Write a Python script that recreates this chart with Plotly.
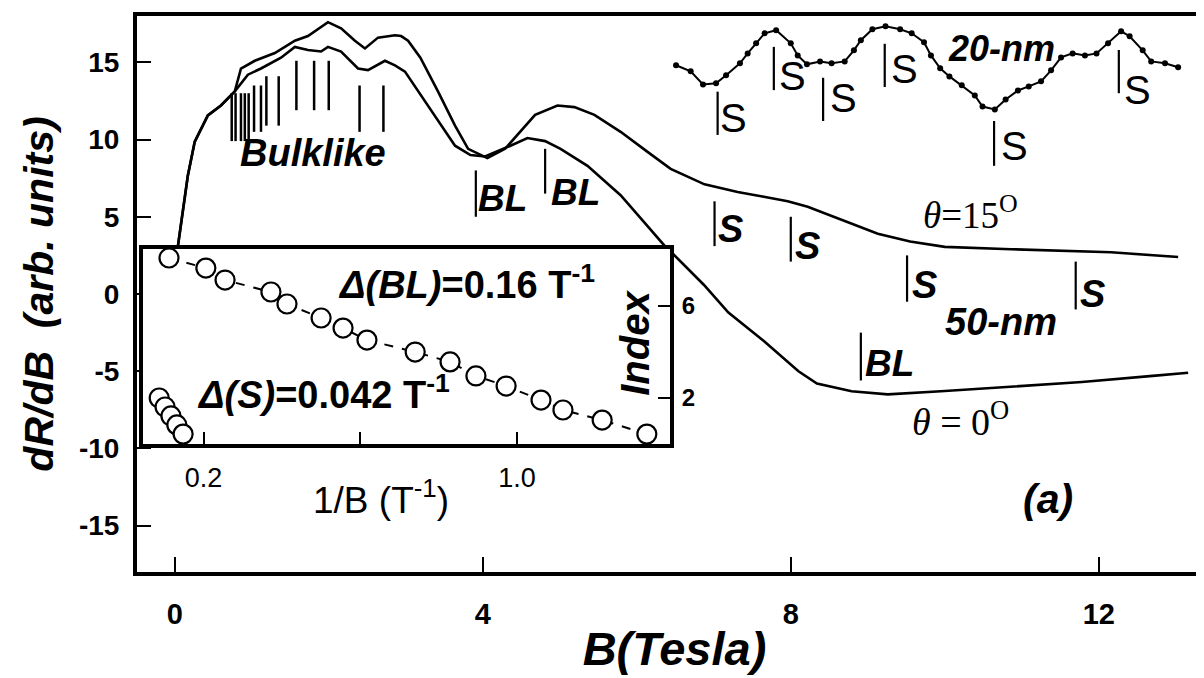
import plotly.graph_objects as go

SANS = "Liberation Sans, Arial, sans-serif"
SERIF = "Liberation Serif, Times New Roman, serif"

# ---------------- main data ----------------
b15 = [0.04, 0.17, 0.26, 0.43, 0.60, 0.78, 0.86, 1.04, 1.30, 1.56,
       1.73, 1.90, 1.99, 2.16, 2.34, 2.47, 2.64, 2.86, 2.94, 3.03,
       3.19, 3.42, 3.64, 3.81, 3.97, 4.06, 4.29, 4.49, 4.68, 4.97,
       5.19, 5.45, 5.79, 6.14, 6.44, 6.88, 7.31, 7.65, 7.96, 8.22,
       8.70, 9.13, 9.55, 10.0, 10.86, 11.5, 12.16, 13.03]
r15 = [3.05, 7.66, 9.87, 11.56, 12.21, 13.12, 14.6, 15.1, 15.6, 16.4,
       16.7, 17.3, 17.6, 17.2, 16.4, 15.9, 16.6, 16.75, 16.7, 16.4,
       15.3, 13.1, 10.9, 9.4, 9.0, 8.8, 9.4, 10.5, 11.6, 12.2,
       12.1, 11.6, 10.5, 9.2, 8.1, 7.1, 6.6, 6.3, 6.0, 5.65,
       4.7, 3.9, 3.4, 3.05, 2.9, 2.8, 2.7, 2.4]

b0 = [0.04, 0.17, 0.26, 0.43, 0.60, 0.78, 0.95, 1.12, 1.38, 1.56,
      1.73, 1.90, 1.99, 2.16, 2.38, 2.51, 2.73, 2.86, 2.99, 3.19,
      3.42, 3.64, 3.84, 4.03, 4.36, 4.58, 4.81, 5.01, 5.36, 5.79,
      6.14, 6.40, 6.45, 6.87, 7.19, 7.65, 8.10, 8.34, 8.79, 9.26,
      9.95, 10.86, 11.78, 12.70, 13.16]
r0 = [3.05, 7.66, 9.87, 11.56, 12.21, 13.12, 14.2, 14.6, 15.3, 16.0,
      15.8, 15.7, 16.0, 15.7, 14.6, 14.5, 15.1, 14.8, 14.4, 12.9,
      11.2, 9.6, 9.0, 8.9, 9.6, 10.1, 9.9, 9.4, 8.3, 6.4,
      4.4, 2.9, 2.7, 0.6, -1.2, -3.05, -5.0, -5.8, -6.3, -6.5,
      -6.3, -6.0, -5.7, -5.3, -5.1]

# 20-nm trace (dots)
b20 = [6.51, 6.70, 6.86, 7.03, 7.16, 7.34, 7.44, 7.55, 7.66, 7.81,
       8.00, 8.09, 8.21, 8.38, 8.53, 8.70, 8.82, 8.91, 9.06, 9.23,
       9.42, 9.57, 9.73, 9.82, 9.94, 10.06, 10.22, 10.39, 10.49, 10.65,
       10.79, 10.95, 11.09, 11.25, 11.38, 11.51, 11.66, 11.82, 11.97, 12.12,
       12.29, 12.40, 12.57, 12.68, 12.86, 13.03]
r20 = [14.81, 14.42, 13.57, 13.64, 14.16, 14.94, 15.58, 16.23, 16.88, 17.08,
       16.23, 15.45, 14.87, 15.06, 14.94, 15.06, 15.78, 16.43, 17.14, 17.34,
       17.14, 16.88, 16.30, 15.45, 14.61, 14.09, 13.51, 12.86, 12.14, 11.95,
       12.60, 13.18, 13.44, 13.77, 14.48, 15.32, 15.58, 15.45, 15.58, 16.23,
       17.01, 16.69, 15.78, 15.06, 14.94, 14.68]

# bulk-like tick marks
bulk_B = [0.74, 0.79, 0.86, 0.91, 0.96, 1.03, 1.12, 1.19, 1.35, 1.58, 1.81, 2.00, 2.40, 2.71]
bulk_top = [13.0, 13.0, 13.0, 13.0, 13.0, 13.5, 13.5, 14.1, 14.1, 15.1, 15.1, 15.1, 13.5, 13.5]
bulk_bot = [9.9, 9.9, 9.9, 9.9, 9.9, 10.5, 10.5, 10.9, 10.9, 11.9, 11.9, 11.9, 10.5, 10.5]

# BL / S markers: line position, line top, line bottom, label, label x, label y, style
mark_B = [3.91, 4.81, 8.91, 7.05, 7.78, 8.42, 9.22, 10.64, 12.26, 7.01, 8.00, 9.51, 11.70]
mark_top = [8.0, 9.4, -2.5, 13.1, 16.0, 14.0, 16.2, 11.2, 15.8, 6.0, 5.0, 2.5, 2.1]
mark_bot = [5.0, 6.5, -5.6, 10.3, 13.2, 11.2, 13.4, 8.3, 13.0, 3.1, 2.1, -0.5, -1.0]
mark_text = ["BL", "BL", "BL", "S", "S", "S", "S", "S", "S", "S", "S", "S", "S"]
mark_tx = [4.25, 5.21, 9.28, 7.25, 8.02, 8.68, 9.48, 10.90, 12.50, 7.22, 8.22, 9.73, 11.92]
mark_ty = [6.2, 6.6, -4.5, 11.4, 14.1, 12.7, 14.6, 9.6, 13.2, 4.2, 3.1, 0.6, 0.0]
mark_bold = [True, True, True, False, False, False, False, False, False, True, True, True, True]

# ---------------- inset data ----------------
inv_bl = [0.112, 0.206, 0.255, 0.372, 0.413, 0.50, 0.556, 0.617, 0.740, 0.829,
          0.895, 0.972, 1.061, 1.117, 1.217, 1.331]
idx_bl = [8.09, 7.65, 7.13, 6.61, 6.09, 5.48, 5.04, 4.52, 4.0, 3.57,
          2.96, 2.52, 1.91, 1.48, 1.04, 0.43]
inv_s = [0.087, 0.102, 0.117, 0.132, 0.148]
idx_s = [2.0, 1.61, 1.22, 0.83, 0.43]

x_ticks = [0, 4, 8, 12]
y_ticks = [-15, -10, -5, 0, 5, 10, 15]
y_ticktext = ["-15", "-10", "-5", "0", "5", "10", "15"]
inset_xticks = [0.2, 0.6, 1.0]
inset_xtext = ["0.2", "", "1.0"]
inset_yticks = [2, 6]

fig = go.Figure()

LW = 2.6
fig.add_trace(go.Scatter(x=b15, y=r15, mode="lines", line=dict(color="black", width=LW),
                         showlegend=False, hoverinfo="skip"))
fig.add_trace(go.Scatter(x=b0, y=r0, mode="lines", line=dict(color="black", width=LW),
                         showlegend=False, hoverinfo="skip"))
fig.add_trace(go.Scatter(x=b20, y=r20, mode="lines+markers",
                         line=dict(color="black", width=2),
                         marker=dict(color="black", size=6),
                         showlegend=False, hoverinfo="skip"))

# bulklike ticks
bx, by = [], []
for b, t, lo in zip(bulk_B, bulk_top, bulk_bot):
    bx += [b, b, None]
    by += [lo, t, None]
fig.add_trace(go.Scatter(x=bx, y=by, mode="lines", line=dict(color="black", width=2.5),
                         showlegend=False, hoverinfo="skip"))

# BL / S marker lines
mx, my = [], []
for b, t, lo in zip(mark_B, mark_top, mark_bot):
    mx += [b, b, None]
    my += [lo, t, None]
fig.add_trace(go.Scatter(x=mx, y=my, mode="lines", line=dict(color="black", width=2.2),
                         showlegend=False, hoverinfo="skip"))


def bi(size):
    return dict(family=SANS, size=size, color="black", weight="bold", style="italic")


annots = []
for txt, tx, ty, bold in zip(mark_text, mark_tx, mark_ty, mark_bold):
    if bold:
        font = bi(37) if txt == "BL" else bi(38)
    else:
        font = dict(family=SANS, size=40, color="black")
    annots.append(dict(x=tx, y=ty, xref="x", yref="y", text=txt, showarrow=False,
                       font=font, xanchor="center", yanchor="middle"))

annots += [
    dict(x=1.80, y=9.1, xref="x", yref="y", text="Bulklike", showarrow=False, font=bi(38)),
    dict(x=10.73, y=15.9, xref="x", yref="y", text="20-nm", showarrow=False, font=bi(36)),
    dict(x=10.73, y=-1.8, xref="x", yref="y", text="50-nm", showarrow=False, font=bi(38)),
    dict(x=11.34, y=-13.3, xref="x", yref="y", text="(a)", showarrow=False, font=bi(41)),
    dict(x=10.34, y=5.3, xref="x", yref="y", text="<i>θ</i>=15<sup>O</sup>", showarrow=False,
         font=dict(family=SERIF, size=37, color="black")),
    dict(x=10.21, y=-8.1, xref="x", yref="y", text="<i>θ</i> = 0<sup>O</sup>", showarrow=False,
         font=dict(family=SERIF, size=38, color="black")),
    dict(x=2.68, y=-13.2, xref="x", yref="y", text="1/B (T<sup>-1</sup>)", showarrow=False,
         font=dict(family=SANS, size=37, color="black")),
    # inset texts
    dict(x=0.872, y=7.05, xref="x2", yref="y2",
         text="<i>Δ(BL)</i>=0.16 T<sup>-1</sup>", showarrow=False,
         font=dict(family=SANS, size=38, color="black", weight="bold")),
    dict(x=0.505, y=2.27, xref="x2", yref="y2",
         text="<i>Δ(S)</i>=0.042 T<sup>-1</sup>", showarrow=False,
         font=dict(family=SANS, size=38, color="black", weight="bold")),
    dict(x=1.300, y=4.39, xref="x2", yref="y2", text="Index", showarrow=False,
         textangle=-90, font=bi(40)),
]

# inset traces
fig.add_trace(go.Scatter(x=inv_bl, y=idx_bl, xaxis="x2", yaxis="y2", mode="lines+markers",
                         line=dict(color="black", width=2, dash="dash"),
                         marker=dict(symbol="circle", size=19, color="white",
                                     line=dict(color="black", width=2.2)),
                         showlegend=False, hoverinfo="skip"))
fig.add_trace(go.Scatter(x=inv_s, y=idx_s, xaxis="x2", yaxis="y2", mode="lines+markers",
                         line=dict(color="black", width=2, dash="dash"),
                         marker=dict(symbol="circle", size=19, color="white",
                                     line=dict(color="black", width=2.2)),
                         showlegend=False, hoverinfo="skip"))

fig.update_layout(
    width=1204, height=678,
    margin=dict(l=129, r=0, t=8, b=114, autoexpand=False),
    paper_bgcolor="white", plot_bgcolor="white",
    showlegend=False,
    annotations=annots,
    xaxis=dict(domain=[0, 1], range=[-0.49, 13.47], tickvals=x_ticks, automargin=False,
               ticks="inside", ticklen=15, tickwidth=2, tickcolor="black",
               showline=True, linewidth=4, linecolor="black", mirror=True,
               showgrid=False, zeroline=False, ticklabelstandoff=13,
               tickfont=dict(family=SANS, size=29, color="black", weight="bold"),
               title=dict(text="B(Tesla)", standoff=4,
                          font=dict(family=SANS, size=47, color="black",
                                    weight="bold", style="italic"))),
    yaxis=dict(domain=[0, 1], range=[-18, 18], tickvals=y_ticks, ticktext=y_ticktext,
               automargin=False,
               ticks="inside", ticklen=14, tickwidth=2, tickcolor="black",
               showline=True, linewidth=4, linecolor="black", mirror=False,
               showgrid=False, zeroline=False, ticklabelstandoff=8,
               tickfont=dict(family=SANS, size=28, color="black", weight="bold"),
               title=dict(text="dR/dB  (arb. units)", standoff=14,
                          font=dict(family=SANS, size=41, color="black",
                                    weight="bold", style="italic"))),
    xaxis2=dict(domain=[0.0056, 0.4958], anchor="y2", range=[0.0457, 1.390],
                automargin=False,
                tickvals=inset_xticks, ticktext=inset_xtext,
                ticks="inside", ticklen=12, tickwidth=2, tickcolor="black",
                showline=True, linewidth=4, linecolor="black", mirror=True,
                showgrid=False, zeroline=False, ticklabelstandoff=7,
                tickfont=dict(family=SANS, size=27, color="black")),
    yaxis2=dict(domain=[0.2302, 0.5809], anchor="x2", side="right", range=[0, 8.48],
                automargin=False,
                tickvals=inset_yticks,
                ticks="inside", ticklen=12, tickwidth=2, tickcolor="black",
                showline=True, linewidth=4, linecolor="black", mirror=True,
                showgrid=False, zeroline=False, ticklabelstandoff=3,
                tickfont=dict(family=SANS, size=24, color="black", weight="bold")),
)

fig.write_html("out.html")
